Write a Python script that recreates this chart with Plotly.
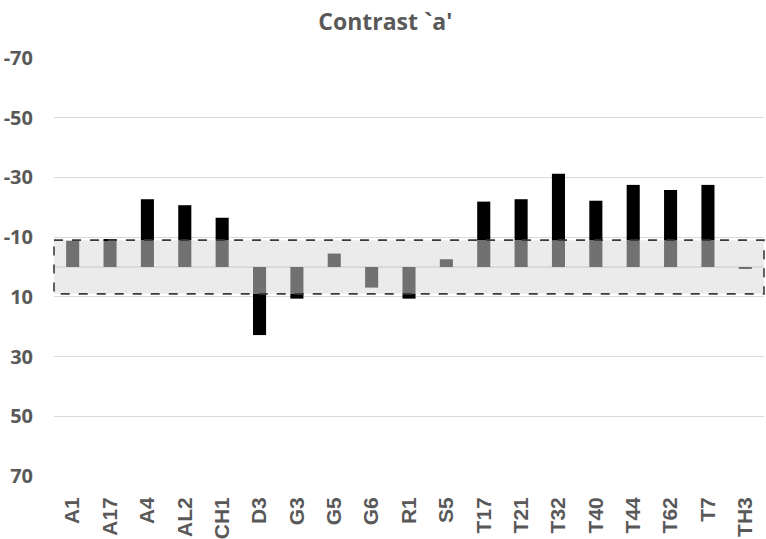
import plotly.graph_objects as go

categories = ["A1", "A17", "A4", "AL2", "CH1", "D3", "G3", "G5", "G6", "R1",
              "S5", "T17", "T21", "T32", "T40", "T44", "T62", "T7", "TH3"]
values = [-8.8, -9.3, -22.7, -20.7, -16.5, 22.8, 10.6, -4.5, 6.9, 10.6,
          -2.6, -21.9, -22.7, -31.2, -22.2, -27.5, -25.8, -27.5, 0.4]
band = 9
tick_vals = [-70, -50, -30, -10, 10, 30, 50, 70]

inner = [max(-band, min(band, v)) for v in values]
outer = [v - i for v, i in zip(values, inner)]

fig = go.Figure()
fig.add_trace(go.Bar(x=categories, y=inner, marker=dict(color="#717171", line=dict(width=0)),
                     showlegend=False))
fig.add_trace(go.Bar(x=categories, y=outer, marker=dict(color="#000000", line=dict(width=0)),
                     showlegend=False))

# shaded band
fig.add_shape(type="rect", xref="paper", yref="y", x0=0.0, x1=1.0, y0=-band, y1=band,
              fillcolor="#ebebeb", line=dict(width=0), layer="below")
fig.add_shape(type="rect", xref="paper", yref="y", x0=0.0, x1=1.0, y0=-band, y1=band,
              fillcolor="rgba(0,0,0,0)", line=dict(color="#3a3a3a", width=1.6, dash="dash"),
              layer="above")
# zero axis line
fig.add_shape(type="line", xref="paper", yref="y", x0=0, x1=1, y0=0, y1=0,
              line=dict(color="#c8c8c8", width=1), layer="below")

fig.update_layout(
    width=766, height=539,
    margin=dict(l=54, r=2, t=58, b=63),
    barmode="relative",
    bargap=0.65,
    plot_bgcolor="white", paper_bgcolor="white",
    title=dict(text="<b>Contrast `a'</b>", x=0.503, xanchor="center", y=0.975, yanchor="top",
               font=dict(family="Open Sans", size=23, color="#595959")),
)
fig.update_yaxes(range=[70, -70], tickvals=tick_vals, ticktext=["<b>%d</b>" % t for t in tick_vals],
                 showgrid=True, gridcolor="#d9d9d9", gridwidth=1, zeroline=False,
                 showline=False, ticks="", ticklabelstandoff=20, automargin=False,
                 tickfont=dict(family="Open Sans", size=20, color="#595959"))
fig.update_xaxes(showgrid=False, showline=False, zeroline=False, tickangle=-90,
                 ticks="", ticklabelstandoff=16, automargin=False,
                 tickfont=dict(family="Liberation Sans", size=21, color="#595959"),
                 tickprefix="<b>", ticksuffix="</b>")

fig.write_html("out.html")
